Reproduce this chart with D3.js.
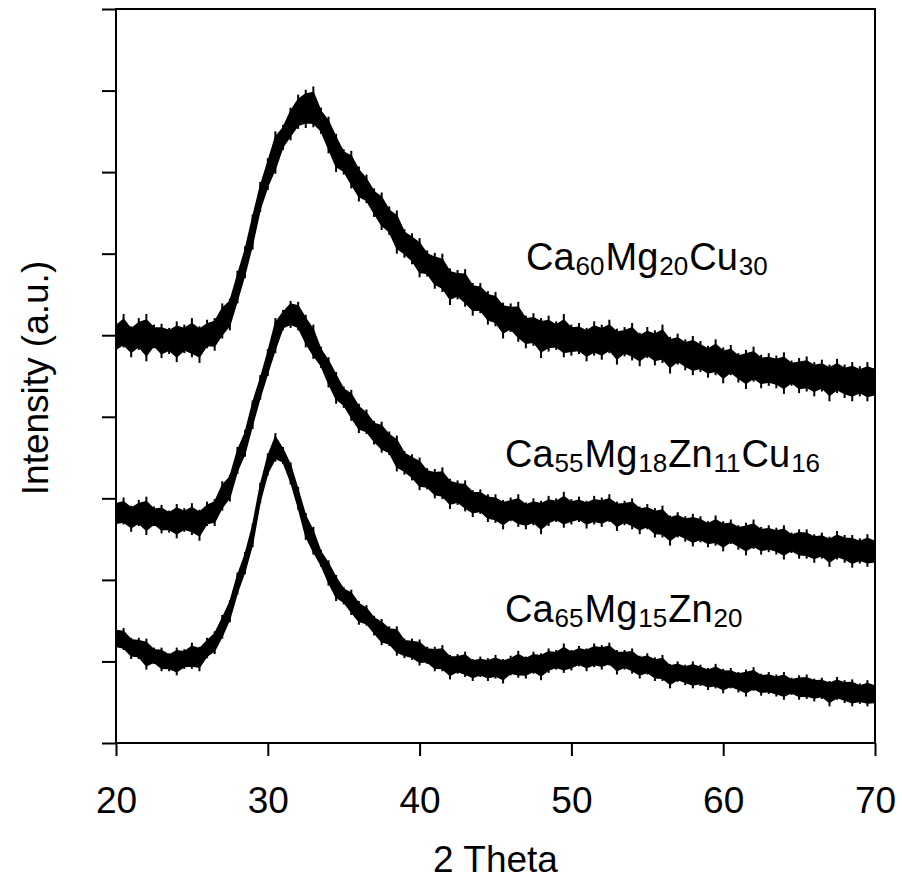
<!DOCTYPE html>
<html>
<head>
<meta charset="utf-8">
<script src="https://cdn.jsdelivr.net/npm/d3@7"></script>
<style>
  body { margin: 0; background: #fff; }
  svg text { font-family: "Liberation Sans", Arial, sans-serif; fill: #000; }
</style>
</head>
<body>
<div id="chart"></div>
<script>
// scan angles (2 theta, degrees)
const twoTheta = [20,20.5,21,21.5,22,22.5,23,23.5,24,24.5,25,25.5,26,26.5,27,27.5,28,28.5,29,29.5,
  30,30.5,31,31.5,32,32.5,33,33.5,34,34.5,35,35.5,36,36.5,37,37.5,38,38.5,39,39.5,
  40,40.5,41,41.5,42,42.5,43,43.5,44,44.5,45,45.5,46,46.5,47,47.5,48,48.5,49,49.5,
  50,50.5,51,51.5,52,52.5,53,53.5,54,54.5,55,55.5,56,56.5,57,57.5,58,58.5,59,59.5,
  60,60.5,61,61.5,62,62.5,63,63.5,64,64.5,65,65.5,66,66.5,67,67.5,68,68.5,69,69.5,70];

// Ca60Mg20Cu30 (top trace, offset) - mean intensity and noise spread
const ca60Mean = [498,500,497,499,496,497,494,496,493,494, 494,496,498,504,514,531,556,590,632,666,
  697,722,743,761,771,780,775,762,746,728, 714,701,689,676,664,652,639,627,615,605,
  595,587,579,572,566,561,556,550,543,536, 530,524,519,514,509,505,503,500,498,497,
  496,494,494,494,493,493,492,492,491,489, 488,487,486,483,481,478,476,473,471,470,
  467,466,464,462,460,459,457,456,455,454, 452,451,450,449,448,446,445,445,444,443, 443];
const ca60Up = [18,26,14,22,30,16,20,13,24,19, 27,15,21,17,25,14,23,19,16,22,
  20,28,15,18,24,21,30,17,22,19, 14,25,18,21,16,23,19,26,15,20,
  24,17,22,28,16,19,25,14,21,18, 23,16,20,27,15,22,18,24,19,29,
  17,21,15,23,20,26,16,18,24,14, 22,19,27,15,21,17,23,20,16,25,
  18,22,14,20,26,17,21,19,24,15, 20,23,17,21,16,25,19,22,18,24, 20];
const ca60Dn = [20,15,24,17,28,13,22,19,26,16, 21,30,14,23,18,25,17,20,27,15,
  19,24,16,22,18,26,20,15,23,28, 17,21,25,14,19,23,16,27,20,18,
  24,15,22,19,29,17,21,26,16,23, 19,28,15,22,25,18,31,20,16,24,
  21,17,26,19,23,15,28,18,22,27, 16,24,20,30,17,21,25,18,23,19,
  26,15,22,28,17,24,19,21,27,16, 23,20,25,18,29,17,22,26,19,24, 21];

// Ca55Mg18Zn11Cu16 (middle trace)
const ca55Mean = [282,280,279,280,278,277,275,274,273,272, 272,273,278,285,300,317,344,368,407,433,
  466,498,519,527,521,507,488,472,455,439, 425,412,401,391,382,375,366,355,346,337,
  330,323,318,315,311,306,301,298,294,290, 286,285,284,283,283,282,282,283,284,284,
  285,285,285,284,284,283,283,282,280,278, 275,272,269,267,266,264,262,261,259,258,
  257,256,255,253,252,251,250,248,247,246, 245,243,242,241,240,239,239,237,236,236, 235];
const ca55Up = [15,21,12,18,24,13,17,11,20,16, 22,13,18,14,21,12,19,16,13,18,
  17,23,12,15,20,18,25,14,18,16, 12,21,15,18,13,19,16,22,12,17,
  20,14,18,23,13,16,21,12,17,15, 19,13,17,22,12,18,15,20,16,24,
  14,17,12,19,17,22,13,15,20,12, 18,16,22,12,17,14,19,17,13,21,
  15,18,12,17,22,14,17,16,20,12, 17,19,14,17,13,21,16,18,15,20, 16];
const ca55Dn = [17,12,20,14,23,11,18,16,22,13, 17,25,12,19,15,21,14,17,22,12,
  16,20,13,18,15,22,17,12,19,23, 14,17,21,12,16,19,13,22,17,15,
  20,12,18,16,24,14,17,21,13,19, 16,23,12,18,21,15,26,17,13,20,
  17,14,22,16,19,12,23,15,18,22, 13,20,17,25,14,17,21,15,19,16,
  22,12,18,23,14,20,16,17,22,13, 19,17,21,15,24,14,18,22,16,20, 17];

// Ca65Mg15Zn20 (bottom trace)
const ca65Mean = [129,124,119,114,109,106,103,101,101,102, 105,108,114,125,140,165,193,221,258,304,
  341,361,353,332,298,267,245,226,209,193, 181,171,162,154,145,136,130,125,118,114,
  111,107,103,101,98,96,95,93,92,92, 92,92,93,95,96,97,98,100,101,102,
  103,105,106,106,106,105,103,102,100,97, 95,92,90,87,86,85,84,82,81,80,
  79,77,77,76,75,74,73,71,71,70, 69,68,68,66,65,64,64,63,61,61, 60];
const ca65Up = [12,17,10,15,19,11,14,9,16,13, 18,10,15,12,17,10,16,13,11,15,
  14,19,10,12,16,15,20,11,15,13, 10,17,12,15,11,16,13,18,10,14,
  16,11,15,19,10,13,17,10,14,12, 16,11,14,18,10,15,12,16,13,20,
  11,14,10,16,14,18,11,12,16,10, 15,13,18,10,14,11,16,14,11,17,
  12,15,10,14,18,11,14,13,16,10, 14,16,11,14,11,17,13,15,12,16, 13];
const ca65Dn = [14,10,16,11,19,9,15,13,18,11, 14,20,10,16,12,17,11,14,18,10,
  13,16,11,15,12,18,14,10,16,19, 11,14,17,10,13,16,11,18,14,12,
  16,10,15,13,20,11,14,17,11,16, 13,19,10,15,17,12,21,14,11,16,
  14,11,18,13,16,10,19,12,15,18, 11,16,14,20,11,14,17,12,16,13,
  18,10,15,19,11,16,13,14,18,11, 16,14,17,12,20,11,15,18,13,16, 14];

// composition labels: [element, subscript] pairs
const ca60Label = [["Ca","60"],["Mg","20"],["Cu","30"]];
const ca55Label = [["Ca","55"],["Mg","18"],["Zn","11"],["Cu","16"]];
const ca65Label = [["Ca","65"],["Mg","15"],["Zn","20"]];

const xTicks = [20, 30, 40, 50, 60, 70];
const yTicks = [0, 100, 200, 300, 400, 500, 600, 700, 800, 900];

// chart dimensions
var width = 902
var height = 895
var margin = {left: 116, right: 27, top: 9, bottom: 152}
var innerWidth = width - margin.left - margin.right
var innerHeight = height - margin.top - margin.bottom

var svg = d3.select('#chart')
            .append('svg')
            .attr('width', width)
            .attr('height', height)

var g = svg.append('g')
           .attr('transform', `translate(${margin.left},${margin.top})`)

var xScale = d3.scaleLinear()
               .domain([20, 70])
               .range([0, innerWidth])

var yScale = d3.scaleLinear()
               .domain([0, 900])
               .range([innerHeight, 0])

// traces: solid core band + thin noise spikes at each sample
var traces = [
    {mean: ca60Mean, up: ca60Up, dn: ca60Dn},
    {mean: ca55Mean, up: ca55Up, dn: ca55Dn},
    {mean: ca65Mean, up: ca65Up, dn: ca65Dn}
]
var coreFrac = 0.75

var band = d3.area()
             .x(d => xScale(d.t))
             .y0(d => yScale(d.m - d.dn * coreFrac))
             .y1(d => yScale(d.m + d.up * coreFrac))

traces.forEach(s => {
    var pts = twoTheta.map((t, i) => ({t: t, m: s.mean[i], up: s.up[i], dn: s.dn[i]}))
    var tg = g.append('g')
    tg.append('path')
      .datum(pts)
      .attr('d', band)
      .attr('fill', '#000')
      .attr('stroke', '#000')
      .attr('stroke-width', 1.5)
    tg.selectAll('line')
      .data(pts)
      .join('line')
      .attr('x1', d => xScale(d.t))
      .attr('x2', d => xScale(d.t))
      .attr('y1', d => yScale(d.m + d.up))
      .attr('y2', d => yScale(d.m - d.dn))
      .attr('stroke', '#000')
      .attr('stroke-width', 2)
})

// axes
var xAxis = d3.axisBottom(xScale)
              .tickValues(xTicks)
              .tickSize(13)
              .tickPadding(31)
              .tickFormat(d3.format('d'))

var xg = g.append('g')
          .attr('transform', `translate(0,${innerHeight})`)
          .call(xAxis)

var yAxis = d3.axisLeft(yScale)
              .tickValues(yTicks)
              .tickSize(14)
              .tickFormat('')

var yg = g.append('g').call(yAxis)

xg.select('.domain').remove()
yg.select('.domain').remove()
xg.selectAll('.tick line').attr('stroke-width', 2)
yg.selectAll('.tick line').attr('stroke-width', 2)
yg.selectAll('.tick text').remove()
xg.selectAll('.tick text')
  .attr('font-size', 37)
  .attr('fill', '#000')
  .style('font-family', '"Liberation Sans", Arial, sans-serif')

// frame
g.append('rect')
 .attr('x', 0)
 .attr('y', 0)
 .attr('width', innerWidth)
 .attr('height', innerHeight)
 .attr('fill', 'none')
 .attr('stroke', '#000')
 .attr('stroke-width', 2)

// axis titles
svg.append('text')
   .attr('x', margin.left + innerWidth / 2)
   .attr('y', 872)
   .attr('text-anchor', 'middle')
   .attr('font-size', 37)
   .text('2 Theta')

svg.append('text')
   .attr('transform', 'translate(48,378) rotate(-90)')
   .attr('text-anchor', 'middle')
   .attr('font-size', 37)
   .text('Intensity (a.u.)')

// composition labels: element symbols and subscripts as separate texts
function formula (parts, x, y) {
    var cx = x
    parts.forEach(p => {
        var el = svg.append('text')
                    .attr('x', cx)
                    .attr('y', y)
                    .attr('font-size', 38)
                    .text(p[0])
        cx += el.node().getComputedTextLength() + 1
        var sub = svg.append('text')
                     .attr('x', cx)
                     .attr('y', y + 5)
                     .attr('font-size', 26)
                     .text(p[1])
        cx += sub.node().getComputedTextLength() + 1
    })
}
formula(ca60Label, 526, 270)
formula(ca55Label, 505, 467)
formula(ca65Label, 505, 622)
</script>
</body>
</html>
